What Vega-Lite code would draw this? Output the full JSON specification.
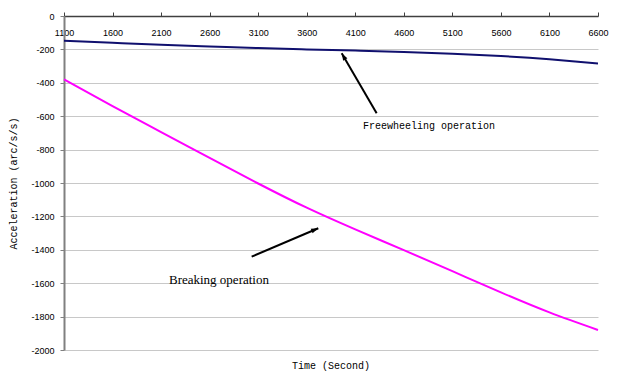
{
  "$schema": "https://vega.github.io/schema/vega-lite/v6.json",
  "width": 534,
  "height": 334,
  "autosize": {"type": "none"},
  "padding": {"left": 64, "top": 16, "right": 21, "bottom": 24},
  "background": "white",
  "config": {
    "view": {"stroke": null},
    "axis": {"labelFont": "Liberation Sans", "labelFontSize": 9, "labelColor": "#000", "titleFont": "Liberation Mono", "titleFontSize": 10, "titleFontWeight": "normal", "titleColor": "#000"}
  },
  "title": {"text": "Time (Second)", "orient": "bottom", "anchor": "middle", "offset": 6, "baseline": "top", "font": "Liberation Mono", "fontSize": 10, "fontWeight": "normal", "color": "#000"},
  "datasets": {
    "series": [
      {"t": 1100, "v": -148, "s": "Freewheeling"},
      {"t": 1600, "v": -160, "s": "Freewheeling"},
      {"t": 2100, "v": -172, "s": "Freewheeling"},
      {"t": 2600, "v": -182, "s": "Freewheeling"},
      {"t": 3100, "v": -192, "s": "Freewheeling"},
      {"t": 3600, "v": -200, "s": "Freewheeling"},
      {"t": 4100, "v": -207, "s": "Freewheeling"},
      {"t": 4600, "v": -215, "s": "Freewheeling"},
      {"t": 5100, "v": -226, "s": "Freewheeling"},
      {"t": 5600, "v": -240, "s": "Freewheeling"},
      {"t": 6100, "v": -259, "s": "Freewheeling"},
      {"t": 6600, "v": -284, "s": "Freewheeling"},
      {"t": 1100, "v": -380, "s": "Breaking"},
      {"t": 1600, "v": -540, "s": "Breaking"},
      {"t": 2100, "v": -695, "s": "Breaking"},
      {"t": 2600, "v": -850, "s": "Breaking"},
      {"t": 3100, "v": -1003, "s": "Breaking"},
      {"t": 3600, "v": -1148, "s": "Breaking"},
      {"t": 4100, "v": -1278, "s": "Breaking"},
      {"t": 4600, "v": -1402, "s": "Breaking"},
      {"t": 5100, "v": -1528, "s": "Breaking"},
      {"t": 5600, "v": -1655, "s": "Breaking"},
      {"t": 6100, "v": -1775, "s": "Breaking"},
      {"t": 6600, "v": -1880, "s": "Breaking"}
    ],
    "notes": [
      {"note": "Freewheeling operation", "tx": 4859, "ty": -659, "ax": 4320, "ay": -583, "bx": 3960, "by": -223},
      {"note": "Breaking operation", "tx": 2696, "ty": -1581, "ax": 3033, "ay": -1441, "bx": 3719, "by": -1271}
    ]
  },
  "layer": [
    {
      "data": {"name": "series"},
      "mark": {"type": "line", "strokeWidth": 2, "interpolate": "natural"},
      "encoding": {
        "x": {"field": "t", "type": "quantitative", "scale": {"domain": [1100, 6600], "nice": false, "zero": false},
          "axis": {"orient": "top", "title": null, "values": [1100, 1600, 2100, 2600, 3100, 3600, 4100, 4600, 5100, 5600, 6100, 6600], "tickCount": 20, "grid": false, "tickSize": 4, "tickColor": "#404040", "domainColor": "#404040", "domainWidth": 1.5, "labelBaseline": "middle", "labelPadding": -20, "labelFlush": false, "labelOverlap": false, "format": "d"}},
        "y": {"field": "v", "type": "quantitative", "scale": {"domain": [-2000, 0], "nice": false},
          "axis": {"title": "Acceleration (arc/s/s)", "values": [-2000, -1800, -1600, -1400, -1200, -1000, -800, -600, -400, -200, 0], "tickCount": 20, "labelExpr": "'' + datum.value", "labelOverlap": false, "labelFlush": false, "grid": true, "gridColor": "#c8c8c8", "gridWidth": 1, "tickSize": 4, "tickColor": "#808080", "domainColor": "#808080", "domainWidth": 2, "labelPadding": 6, "titlePadding": 12}},
        "color": {"field": "s", "type": "nominal", "scale": {"domain": ["Freewheeling", "Breaking"], "range": ["#10106e", "#ff00ff"]}, "legend": null}
      }
    },
    {
      "mark": {"type": "rect", "color": "white"},
      "encoding": {
        "x": {"datum": 1955, "type": "quantitative"},
        "x2": {"datum": 3448},
        "y": {"datum": -1530, "type": "quantitative"},
        "y2": {"datum": -1632}
      }
    },
    {
      "data": {"name": "notes"},
      "mark": {"type": "rule", "color": "#000", "strokeWidth": 2},
      "encoding": {
        "x": {"field": "ax", "type": "quantitative"},
        "y": {"field": "ay", "type": "quantitative"},
        "x2": {"field": "bx"},
        "y2": {"field": "by"}
      }
    },
    {
      "data": {"name": "notes"},
      "transform": [{"filter": "datum.note == 'Freewheeling operation'"}],
      "layer": [
        {
          "mark": {"type": "point", "shape": "M0,0L-0.6,1.8L0.6,1.8Z", "filled": true, "color": "#000", "size": 64, "angle": 330, "opacity": 1},
          "encoding": {"x": {"field": "bx", "type": "quantitative"}, "y": {"field": "by", "type": "quantitative"}}
        },
        {
          "mark": {"type": "text", "font": "Liberation Mono", "fontSize": 10, "align": "center", "baseline": "middle", "color": "#000"},
          "encoding": {"x": {"field": "tx", "type": "quantitative"}, "y": {"field": "ty", "type": "quantitative"}, "text": {"field": "note"}}
        }
      ]
    },
    {
      "data": {"name": "notes"},
      "transform": [{"filter": "datum.note == 'Breaking operation'"}],
      "layer": [
        {
          "mark": {"type": "point", "shape": "M0,0L-0.6,1.8L0.6,1.8Z", "filled": true, "color": "#000", "size": 64, "angle": 67, "opacity": 1},
          "encoding": {"x": {"field": "bx", "type": "quantitative"}, "y": {"field": "by", "type": "quantitative"}}
        },
        {
          "mark": {"type": "text", "font": "Liberation Serif", "fontSize": 13, "align": "center", "baseline": "middle", "color": "#000"},
          "encoding": {"x": {"field": "tx", "type": "quantitative"}, "y": {"field": "ty", "type": "quantitative"}, "text": {"field": "note"}}
        }
      ]
    }
  ]
}
